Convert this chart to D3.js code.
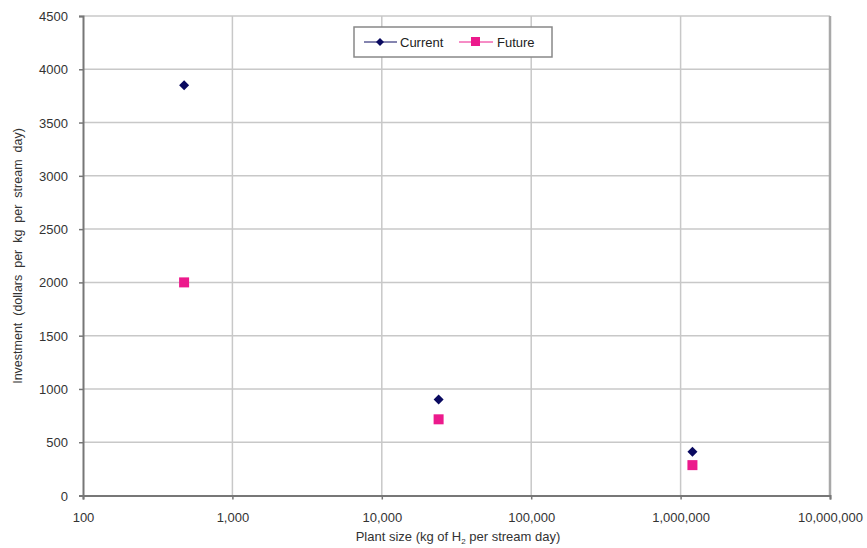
<!DOCTYPE html>
<html><head><meta charset="utf-8">
<script src="https://cdn.jsdelivr.net/npm/d3@7"></script>
<style>body{margin:0;background:#fff;}svg{display:block;font-family:"Liberation Sans",Arial,sans-serif;}</style>
</head><body>
<svg id="c" width="867" height="548"></svg>
<script>
const plantSizes = [475, 24000, 1200000];
const currentValues = [3850, 900, 410];
const futureValues = [2000, 715, 285];
const xTicks = [100, 1000, 10000, 100000, 1000000, 10000000];
const yTicks = [0, 500, 1000, 1500, 2000, 2500, 3000, 3500, 4000, 4500];
const seriesNames = ["Current", "Future"];

const svg = d3.select("#c");
const L = 83, R = 830, T = 16, B = 495.5;
const x = d3.scaleLog().domain([100, 10000000]).range([L, R]);
const y = d3.scaleLinear().domain([0, 4500]).range([B, T]);
const fmt = d3.format(",");

// gridlines
svg.append("g").selectAll("line").data(yTicks.slice(1)).join("line")
  .attr("x1", L).attr("x2", R).attr("y1", d => y(d)).attr("y2", d => y(d))
  .attr("stroke", "#c8c8c8").attr("stroke-width", 1.5);
svg.append("g").selectAll("line").data(xTicks.slice(1, -1)).join("line")
  .attr("y1", T).attr("y2", B).attr("x1", d => x(d)).attr("x2", d => x(d))
  .attr("stroke", "#c8c8c8").attr("stroke-width", 1.5);
// right border
svg.append("line").attr("x1", R).attr("x2", R).attr("y1", T).attr("y2", B)
  .attr("stroke", "#a8a8a8").attr("stroke-width", 2.5);

// axes
const xAxis = d3.axisBottom(x).tickValues(xTicks).tickFormat(fmt).tickSize(4).tickPadding(13);
const gx = svg.append("g").attr("transform", `translate(0,${B})`).call(xAxis);
const yAxis = d3.axisLeft(y).tickValues(yTicks).tickFormat(d3.format("d")).tickSize(4).tickPadding(11);
const gy = svg.append("g").attr("transform", `translate(${L},0)`).call(yAxis);
[gx, gy].forEach(g => {
  g.select(".domain").attr("stroke", "#777").attr("stroke-width", 2);
  g.selectAll(".tick line").attr("stroke", "#777").attr("stroke-width", 1.5);
  g.selectAll(".tick text").attr("fill", "#333").style("font-size", "13px").style("font-family", "'Liberation Sans',Arial,sans-serif");
});
gy.selectAll(".tick text").attr("dy", "0.35em");

// axis titles
svg.append("text").attr("x", 458).attr("y", 541).attr("text-anchor", "middle")
  .attr("fill", "#333").style("font-size", "13px")
  .html('Plant size (kg of H<tspan dy="3" font-size="8">2</tspan><tspan dy="-3"> per stream day)</tspan>');
svg.append("text").attr("transform", "translate(22,256) rotate(-90)").attr("text-anchor", "middle")
  .attr("fill", "#333").style("font-size", "12.5px").attr("xml:space", "preserve")
  .text("Investment  (dollars  per  kg  per  stream  day)");

// markers
const diamond = d3.symbol().type(d3.symbolSquare).size(50);
const navy = "#0a0a60", pink = "#ec1a8c";
svg.append("g").selectAll("path").data(plantSizes.map((p, i) => [p, currentValues[i]])).join("path")
  .attr("d", diamond).attr("transform", d => `translate(${x(d[0])},${y(d[1])}) rotate(45)`).attr("fill", navy);
svg.append("g").selectAll("rect").data(plantSizes.map((p, i) => [p, futureValues[i]])).join("rect")
  .attr("x", d => x(d[0]) - 5).attr("y", d => y(d[1]) - 5).attr("width", 10).attr("height", 10).attr("fill", pink);

// legend
const lg = svg.append("g");
lg.append("rect").attr("x", 354).attr("y", 27).attr("width", 198).attr("height", 30)
  .attr("fill", "#fff").attr("stroke", "#888").attr("stroke-width", 1.5);
lg.append("line").attr("x1", 364).attr("x2", 397).attr("y1", 42).attr("y2", 42).attr("stroke", navy).attr("stroke-width", 1);
lg.append("path").attr("d", d3.symbol().type(d3.symbolSquare).size(32)).attr("transform", "translate(380,42) rotate(45)").attr("fill", navy);
lg.append("text").attr("x", 400).attr("y", 46.5).attr("fill", "#222").style("font-size", "13px").text(seriesNames[0]);
lg.append("line").attr("x1", 459).attr("x2", 493).attr("y1", 42).attr("y2", 42).attr("stroke", pink).attr("stroke-width", 1);
lg.append("rect").attr("x", 471).attr("y", 37).attr("width", 9).attr("height", 9).attr("fill", pink);
lg.append("text").attr("x", 497).attr("y", 46.5).attr("fill", "#222").style("font-size", "13px").text(seriesNames[1]);
</script>
</body></html>
